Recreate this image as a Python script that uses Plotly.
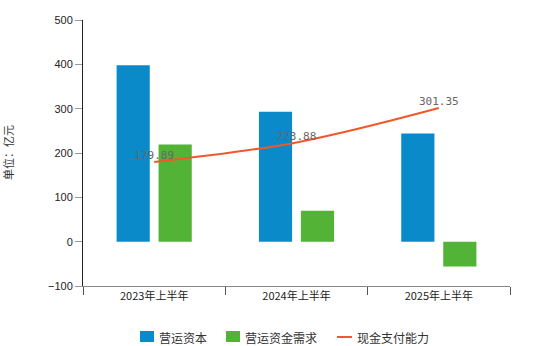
import plotly.graph_objects as go

# Half-year periods and values (unit: 100 million yuan)
periods = ["2023年上半年", "2024年上半年", "2025年上半年"]
working_capital = [398, 293, 244]
capital_demand = [219, 70, -56]
payment_capacity = [179.89, 223.88, 301.35]
series_names = ["营运资本", "营运资金需求", "现金支付能力"]

BLUE = "#0B8AC9"
GREEN = "#52B336"
ORANGE = "#F0582A"
CJK = "Noto Sans CJK SC"

W, H = 560, 346
ML, MR, MT, MB = 83, 50, 20, 60
PW, PH = W - ML - MR, H - MT - MB


def px_x(px):
    return (px - ML) / PW


def px_y(py):
    return (H - MB - py) / PH


fig = go.Figure()
fig.add_trace(go.Bar(
    x=periods, y=working_capital, name=series_names[0],
    marker=dict(color=BLUE, line=dict(width=0)),
))
fig.add_trace(go.Bar(
    x=periods, y=capital_demand, name=series_names[1],
    marker=dict(color=GREEN, line=dict(width=0)),
))
fig.add_trace(go.Scatter(
    x=periods, y=payment_capacity, name=series_names[2],
    mode="lines+text",
    line=dict(color=ORANGE, width=2, shape="spline"),
    text=[f"{v:.2f}" for v in payment_capacity],
    textposition="top center",
    textfont=dict(family="DejaVu Sans Mono", size=11, color="#666666"),
))

# Legend row drawn beneath the axis: swatch + label for each series
shapes = []
annotations = []
legend_y = 337
items = [
    ("rect", BLUE, 140, 154, 158),
    ("rect", GREEN, 226, 240, 244),
    ("line", ORANGE, 337, 352, 356),
]
for name, (kind, color, x0, x1, tx) in zip(series_names, items):
    if kind == "rect":
        shapes.append(dict(
            type="rect", xref="paper", yref="paper",
            x0=px_x(x0), x1=px_x(x1), y0=px_y(legend_y + 5), y1=px_y(legend_y - 6),
            fillcolor=color, line=dict(width=0),
        ))
    else:
        shapes.append(dict(
            type="line", xref="paper", yref="paper",
            x0=px_x(x0), x1=px_x(x1), y0=px_y(legend_y), y1=px_y(legend_y),
            line=dict(color=color, width=2),
        ))
    annotations.append(dict(
        text=name, showarrow=False, xref="paper", yref="paper",
        x=px_x(tx), y=px_y(legend_y), xanchor="left", yanchor="middle",
        font=dict(family=CJK, size=12, color="#333333"),
        borderpad=0,
    ))

annotations.append(dict(
    text="单位：亿元", textangle=-90, showarrow=False,
    xref="paper", yref="paper",
    x=px_x(8), y=px_y(153),
    xanchor="center", yanchor="middle",
    font=dict(family=CJK, size=11, color="#333333"),
))

fig.update_layout(
    width=W, height=H,
    margin=dict(l=ML, r=MR, t=MT, b=MB, autoexpand=False),
    plot_bgcolor="white", paper_bgcolor="white",
    barmode="group", bargap=0.41, bargroupgap=0.21,
    font=dict(family=CJK, size=12, color="#333333"),
    showlegend=False,
    xaxis=dict(
        type="category", automargin=False,
        showline=True, linecolor="#888888", linewidth=1,
        ticks="outside", tickson="boundaries", ticklen=8,
        tickcolor="#555555",
        tickfont=dict(family=CJK, size=11, color="#222222"),
        showgrid=False, zeroline=False,
    ),
    yaxis=dict(
        range=[-100, 500], dtick=100, automargin=False,
        showline=True, linecolor="#222222", linewidth=1,
        ticks="outside", ticklen=7, tickcolor="#999999",
        tickfont=dict(family="Liberation Sans", size=11, color="#222222"),
        showgrid=False, zeroline=False,
    ),
    shapes=shapes,
    annotations=annotations,
)

fig.write_html("out.html")
